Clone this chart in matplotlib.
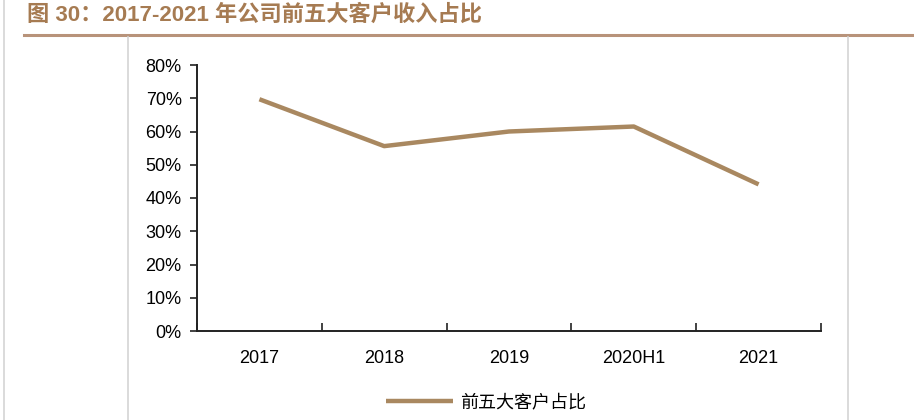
import matplotlib.pyplot as plt
from matplotlib.lines import Line2D

plt.rcParams['font.family'] = ['Liberation Sans', 'Noto Sans CJK SC', 'DejaVu Sans']

categories = ['2017', '2018', '2019', '2020H1', '2021']
top5_share = [69.7, 55.6, 60.0, 61.5, 44.1]
y_ticks = [0, 10, 20, 30, 40, 50, 60, 70, 80]

LINE_COLOR = '#A98860'
TITLE_COLOR = '#A67B52'
RULE_COLOR = '#B8937A'
GREY = '#D4D4D4'

fig = plt.figure(figsize=(9.14, 4.2), dpi=100)

# page decorations: title, rule under it, grey frame lines
fig.text(27 / 914, 1 - 15 / 420, '图 30：2017-2021 年公司前五大客户收入占比',
         fontsize=16, fontweight='bold', color=TITLE_COLOR,
         family=['Liberation Sans', 'Noto Sans CJK SC'], va='center', ha='left')
fig.add_artist(Line2D([24 / 914, 1], [1 - 35 / 420] * 2, color=RULE_COLOR, lw=2.2))
fig.add_artist(Line2D([4 / 914] * 2, [0, 1], color=GREY, lw=1.2))
fig.add_artist(Line2D([128 / 914] * 2, [0, 1 - 37 / 420], color=GREY, lw=1.2))
fig.add_artist(Line2D([848 / 914] * 2, [0, 1 - 37 / 420], color=GREY, lw=1.2))

ax = fig.add_axes([197 / 914, 1 - 331 / 420, (821 - 197) / 914, (331 - 65) / 420])
x = range(len(categories))
ax.plot(x, top5_share, color=LINE_COLOR, lw=3.2, solid_capstyle='butt',
        label='前五大客户占比')

ax.set_xlim(-0.5, len(categories) - 0.5)
ax.set_ylim(0, 80)
ax.set_yticks(y_ticks)
ax.set_yticklabels([f'{v}%' for v in y_ticks], fontsize=13)
ax.set_xticks(list(x))
ax.set_xticklabels(categories, fontsize=13)
ax.tick_params(axis='x', length=0, pad=14)
ax.set_xticks([i - 0.5 for i in range(len(categories) + 1)], minor=True)
ax.tick_params(axis='x', which='minor', direction='in', length=5.5, width=1.2, color='#222222')
ax.tick_params(axis='y', direction='out', length=5, width=1.2, color='#222222', pad=6)

for s in ['top', 'right']:
    ax.spines[s].set_visible(False)
for s in ['left', 'bottom']:
    ax.spines[s].set_linewidth(1.4)
    ax.spines[s].set_color('#222222')

leg = fig.legend(loc='center', bbox_to_anchor=(486 / 914, 1 - 402 / 420), frameon=False,
                 handlelength=3.7, handletextpad=0.4,
                 prop={'family': 'Noto Sans CJK SC', 'size': 13})

fig.savefig('out.png', dpi=100)
